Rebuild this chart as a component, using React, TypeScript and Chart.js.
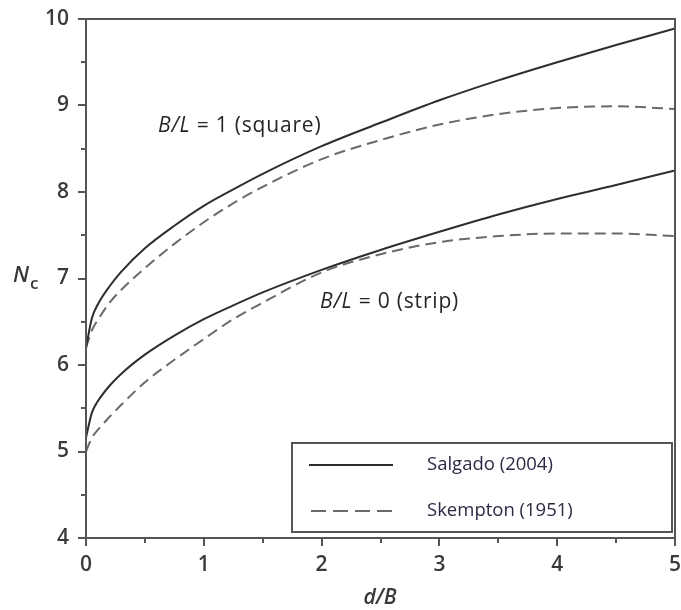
import React, { useEffect, useRef } from "react";
import { Chart, registerables } from "chart.js";

Chart.register(...registerables);

// d/B sample positions
const dB = [0, 0.05, 0.1, 0.2, 0.3, 0.5, 0.75, 1, 1.25, 1.5, 2, 2.5, 3, 3.5, 4, 4.5, 5];
// Nc values
const salgadoSquare = [6.2, 6.54, 6.7, 6.91, 7.08, 7.35, 7.61, 7.84, 8.03, 8.21, 8.53, 8.8, 9.06, 9.29, 9.5, 9.7, 9.89];
const skemptonSquare = [6.2, 6.4, 6.52, 6.72, 6.87, 7.12, 7.4, 7.65, 7.87, 8.06, 8.38, 8.6, 8.78, 8.9, 8.97, 8.99, 8.96];
const salgadoStrip = [5.16, 5.45, 5.58, 5.76, 5.9, 6.12, 6.34, 6.53, 6.69, 6.84, 7.1, 7.33, 7.54, 7.74, 7.92, 8.08, 8.25];
const skemptonStrip = [5.0, 5.16, 5.25, 5.4, 5.54, 5.8, 6.06, 6.3, 6.53, 6.72, 7.07, 7.28, 7.42, 7.49, 7.52, 7.52, 7.49];

const xMin = 0, xMax = 5, yMin = 4, yMax = 10;
const minorStep = 0.5;
const legendLabels = ["Salgado (2004)", "Skempton (1951)"];
const squareLabel = ["B/L", " = 1 (square)"];
const stripLabel = ["B/L", " = 0 (strip)"];
const xTitle = "d/B";
const yTitle = ["N", "c"];

const SOLID = "#2e2e2e";
const DASH = "#6a6a6a";
const AXIS = "#555555";
const TEXT = "#3a3a3a";
const FONT = "'Open Sans', 'DejaVu Sans', sans-serif";

const toPts = (ys: number[]) => dB.map((x, i) => ({ x, y: ys[i] }));

const decorPlugin = {
  id: "decor",
  afterDraw(chart: any) {
    const { ctx, chartArea: a, scales } = chart;
    const xs = scales.x, ys = scales.y;
    ctx.save();
    // frame
    ctx.strokeStyle = AXIS;
    ctx.lineWidth = 2;
    ctx.strokeRect(a.left, a.top, a.right - a.left, a.bottom - a.top);
    // ticks
    ctx.beginPath();
    for (let v = yMin; v <= yMax + 1e-9; v += minorStep) {
      const y = Math.round(ys.getPixelForValue(v));
      const len = Math.abs(v - Math.round(v)) < 1e-9 ? 8 : 5;
      ctx.moveTo(a.left, y);
      ctx.lineTo(a.left - len, y);
    }
    for (let v = xMin; v <= xMax + 1e-9; v += minorStep) {
      const x = Math.round(xs.getPixelForValue(v));
      const len = Math.abs(v - Math.round(v)) < 1e-9 ? 8 : 5;
      ctx.moveTo(x, a.bottom);
      ctx.lineTo(x, a.bottom + len);
    }
    ctx.stroke();

    ctx.fillStyle = TEXT;
    ctx.textBaseline = "middle";
    // y title N_c
    ctx.font = `italic 600 22px ${FONT}`;
    ctx.textAlign = "left";
    ctx.fillText(yTitle[0], 13, 276);
    const nW = ctx.measureText(yTitle[0]).width;
    ctx.font = `600 17px ${FONT}`;
    ctx.fillText(yTitle[1], 13 + nW + 1, 284);
    // x title
    ctx.font = `italic 600 21px ${FONT}`;
    ctx.textAlign = "center";
    ctx.fillText(xTitle, 380, 598);

    // curve labels
    const drawLabel = (parts: string[], x: number, y: number) => {
      ctx.fillStyle = "#262626";
      ctx.textAlign = "left";
      (ctx as any).letterSpacing = "0.8px";
      ctx.font = `italic 21px ${FONT}`;
      ctx.fillText(parts[0], x, y);
      const w = ctx.measureText(parts[0]).width;
      ctx.font = `21px ${FONT}`;
      ctx.fillText(parts[1], x + w, y);
      (ctx as any).letterSpacing = "0px";
    };
    drawLabel(squareLabel, 158, 126);
    drawLabel(stripLabel, 320, 302);

    // legend
    const bx = 292, by = 443, bw = 380, bh = 89;
    ctx.fillStyle = "#ffffff";
    ctx.fillRect(bx, by, bw, bh);
    ctx.strokeStyle = AXIS;
    ctx.lineWidth = 2;
    ctx.strokeRect(bx, by, bw, bh);
    const rows = [465, 511];
    const styles = [
      { c: SOLID, d: [] as number[], x0: 309 },
      { c: DASH, d: [15, 7], x0: 311 },
    ];
    rows.forEach((ry, i) => {
      ctx.beginPath();
      ctx.strokeStyle = styles[i].c;
      ctx.lineWidth = 2;
      ctx.setLineDash(styles[i].d);
      ctx.moveTo(styles[i].x0, ry);
      ctx.lineTo(393, ry);
      ctx.stroke();
      ctx.setLineDash([]);
      ctx.fillStyle = "#2a2a45";
      ctx.font = `18.5px ${FONT}`;
      ctx.textAlign = "left";
      ctx.fillText(legendLabels[i], 427, ry);
    });
    ctx.restore();
  },
};

export default function App() {
  const ref = useRef<HTMLCanvasElement | null>(null);
  useEffect(() => {
    document.body.style.margin = "0";
    const canvas = ref.current!;
    const chart = new Chart(canvas, {
      type: "line",
      data: {
        datasets: [
          { label: legendLabels[0], data: toPts(salgadoSquare), borderColor: SOLID, borderWidth: 2, pointRadius: 0, cubicInterpolationMode: "monotone", fill: false },
          { label: legendLabels[1], data: toPts(skemptonSquare), borderColor: DASH, borderWidth: 2, borderDash: [11, 6], pointRadius: 0, cubicInterpolationMode: "monotone", fill: false },
          { label: legendLabels[0], data: toPts(salgadoStrip), borderColor: SOLID, borderWidth: 2, pointRadius: 0, cubicInterpolationMode: "monotone", fill: false },
          { label: legendLabels[1], data: toPts(skemptonStrip), borderColor: DASH, borderWidth: 2, borderDash: [11, 6], pointRadius: 0, cubicInterpolationMode: "monotone", fill: false },
        ],
      },
      options: {
        responsive: false,
        animation: false,
        layout: { padding: { top: 19, right: 6, left: 0, bottom: 0 } },
        plugins: { legend: { display: false }, tooltip: { enabled: false } },
        scales: {
          x: {
            type: "linear",
            min: xMin,
            max: xMax,
            grid: { display: false, drawTicks: false },
            border: { display: false },
            ticks: { stepSize: 1, padding: 14, color: TEXT, font: { family: FONT, size: 21, weight: "600" }, maxRotation: 0 },
            afterFit: (s: any) => { s.height = 72; s.paddingLeft = 0; s.paddingRight = 0; },
          },
          y: {
            type: "linear",
            min: yMin,
            max: yMax,
            grid: { display: false, drawTicks: false },
            border: { display: false },
            ticks: { stepSize: 1, padding: 17, color: TEXT, font: { family: FONT, size: 21, weight: "600" } },
            afterFit: (s: any) => { s.width = 86; s.paddingTop = 0; s.paddingBottom = 0; },
          },
        },
      },
      plugins: [decorPlugin],
    } as any);
    return () => chart.destroy();
  }, []);
  return <canvas ref={ref} width={681} height={610} style={{ display: "block" }} />;
}
